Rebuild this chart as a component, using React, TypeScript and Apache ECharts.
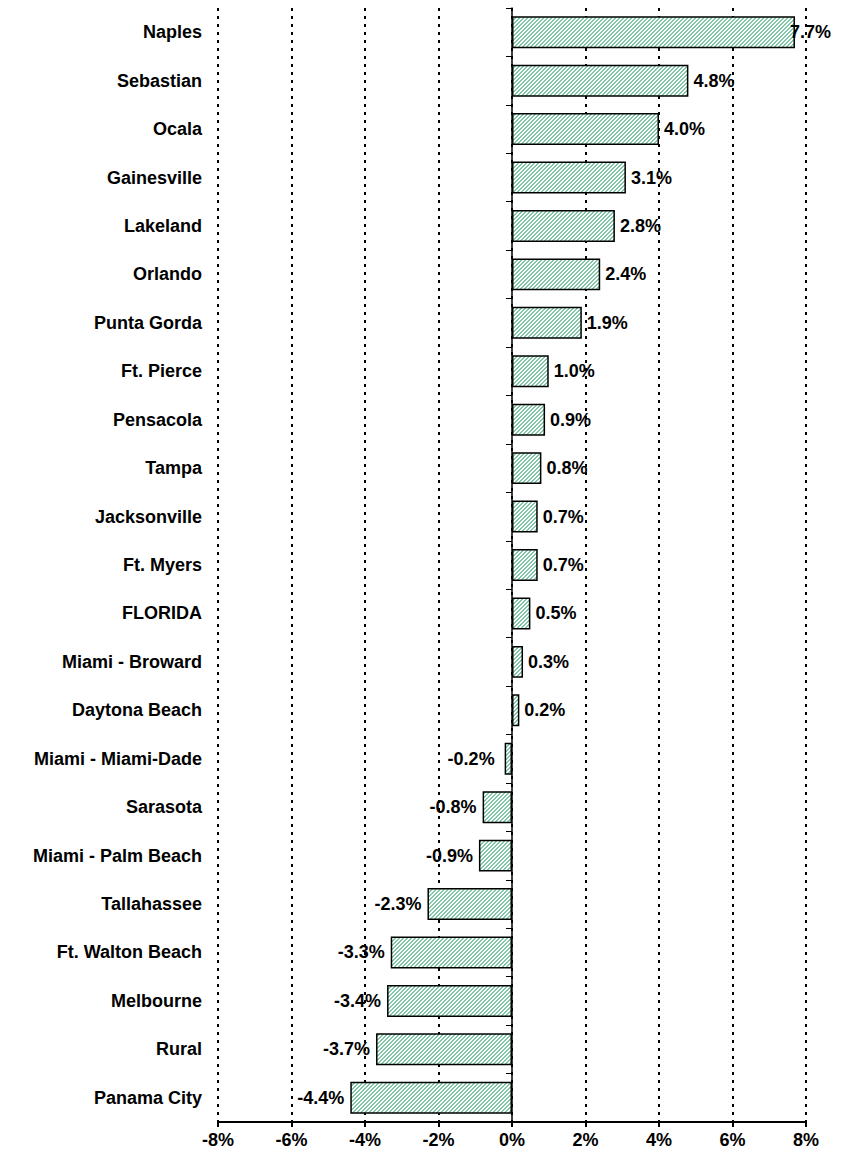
import React, { useEffect, useRef } from "react";
import * as echarts from "echarts";

const categories = [
  "Naples", "Sebastian", "Ocala", "Gainesville", "Lakeland", "Orlando", "Punta Gorda",
  "Ft. Pierce", "Pensacola", "Tampa", "Jacksonville", "Ft. Myers", "FLORIDA",
  "Miami - Broward", "Daytona Beach", "Miami - Miami-Dade", "Sarasota",
  "Miami - Palm Beach", "Tallahassee", "Ft. Walton Beach", "Melbourne", "Rural", "Panama City",
];
const values = [
  7.7, 4.8, 4.0, 3.1, 2.8, 2.4, 1.9, 1.0, 0.9, 0.8, 0.7, 0.7, 0.5, 0.3, 0.2,
  -0.2, -0.8, -0.9, -2.3, -3.3, -3.4, -3.7, -4.4,
];
const xTicks = [-8, -6, -4, -2, 0, 2, 4, 6, 8];

function makePattern(): HTMLCanvasElement {
  const c = document.createElement("canvas");
  c.width = 4;
  c.height = 4;
  const ctx = c.getContext("2d")!;
  ctx.fillStyle = "#ffffff";
  ctx.fillRect(0, 0, 4, 4);
  ctx.fillStyle = "#82c8a8";
  for (let x = 0; x < 4; x++) {
    for (let y = 0; y < 4; y++) {
      if ((x + y) % 4 === 0 || (x + y) % 4 === 1) ctx.fillRect(x, y, 1, 1);
    }
  }
  return c;
}

export default function App() {
  const ref = useRef<HTMLDivElement>(null);
  useEffect(() => {
    document.body.style.margin = "0";
    const chart = echarts.init(ref.current!, undefined, { renderer: "svg" });
    const pattern = { image: makePattern(), repeat: "repeat" as const };
    const font = "'Liberation Sans', Arial, sans-serif";
    const seriesData = values.map((v, i) => {
      if (i === 0) return { value: v, label: { distance: -5 } };
      if (v < 0) return { value: v, label: { position: "left", distance: v > -0.5 ? 10 : 6 } };
      return { value: v };
    });
    chart.setOption({
      animation: false,
      grid: { left: 218, right: 40, top: 8, bottom: 30 },
      xAxis: {
        type: "value",
        min: xTicks[0],
        max: xTicks[xTicks.length - 1],
        interval: 2,
        axisLine: { show: true, onZero: false, lineStyle: { color: "#000", width: 2 } },
        axisTick: { show: true, length: 5, lineStyle: { color: "#000", width: 2 } },
        axisLabel: {
          formatter: (v: number) => `${v}%`,
          color: "#000",
          fontWeight: "bold",
          fontSize: 18,
          fontFamily: font,
          margin: 9,
        },
        splitLine: { show: true, lineStyle: { color: "#000", type: [3, 5], width: 2 } },
      },
      yAxis: [
        {
          type: "category",
          data: categories,
          inverse: true,
          position: "left",
          axisLine: { show: false, onZero: false },
          axisTick: { show: false },
          axisLabel: {
            color: "#000",
            fontWeight: "bold",
            fontSize: 18,
            fontFamily: font,
            margin: 16,
          },
        },
        {
          type: "category",
          data: categories,
          inverse: true,
          position: "right",
          axisLine: { show: true, onZero: true, lineStyle: { color: "#000", width: 1.5 } },
          axisTick: { show: true, inside: true, length: 6, lineStyle: { color: "#000", width: 1 } },
          axisLabel: { show: false },
        },
      ],
      series: [
        {
          type: "bar",
          data: seriesData,
          yAxisIndex: 0,
          barWidth: "66%",
          itemStyle: { color: pattern, borderColor: "#000", borderWidth: 1.5 },
          label: {
            show: true,
            formatter: (p: any) => `${Number(p.value).toFixed(1)}%`,
            position: "right",
            distance: 5,
            color: "#000",
            fontWeight: "bold",
            fontSize: 18,
            fontFamily: font,
          },
        },
      ],
    });
    return () => chart.dispose();
  }, []);
  return <div ref={ref} style={{ width: 846, height: 1152 }} />;
}
